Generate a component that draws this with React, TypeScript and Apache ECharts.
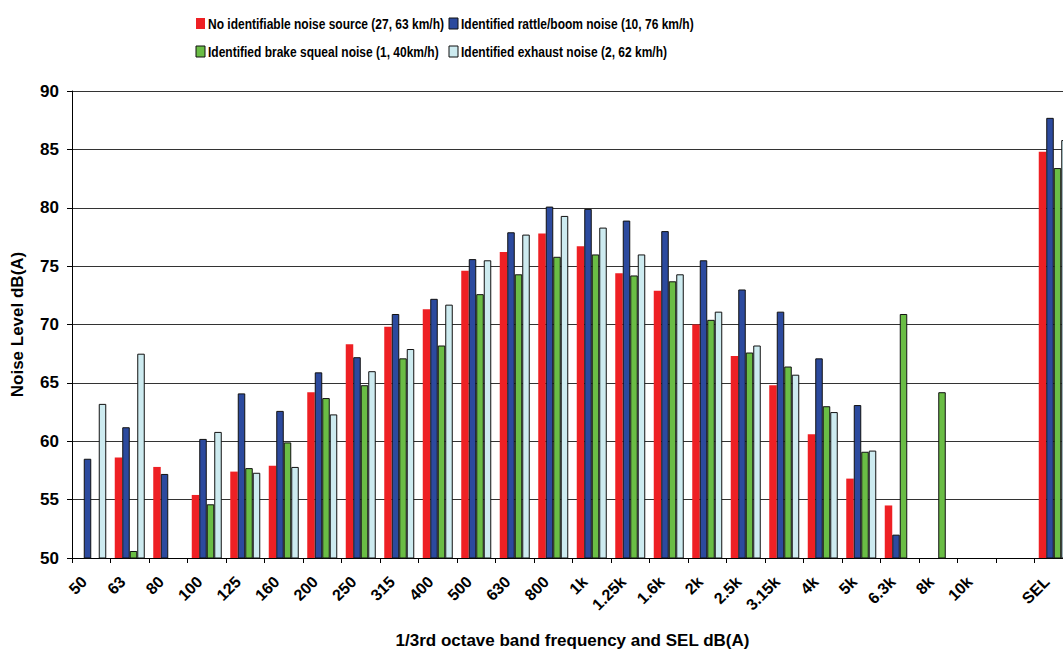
import { useEffect, useRef } from 'react';
import * as echarts from 'echarts';

// 1/3 octave bands plus SEL (blank slot before SEL)
const bands = ['50', '63', '80', '100', '125', '160', '200', '250', '315', '400', '500', '630', '800', '1k', '1.25k', '1.6k', '2k', '2.5k', '3.15k', '4k', '5k', '6.3k', '8k', '10k', '', 'SEL'];

const noSource = [null, 58.6, 57.8, 55.4, 57.4, 57.9, 64.2, 68.3, 69.8, 71.3, 74.6, 76.2, 77.8, 76.7, 74.4, 72.9, 70.0, 67.3, 64.8, 60.6, 56.8, 54.5, null, null, null, 84.8];
const rattleBoom = [58.5, 61.2, 57.2, 60.2, 64.1, 62.6, 65.9, 67.2, 70.9, 72.2, 75.6, 77.9, 80.1, 79.9, 78.9, 78.0, 75.5, 73.0, 71.1, 67.1, 63.1, 52.0, null, null, null, 87.7];
const brakeSqueal = [null, 50.6, null, 54.6, 57.7, 59.9, 63.7, 64.8, 67.1, 68.2, 72.6, 74.3, 75.8, 76.0, 74.2, 73.7, 70.4, 67.6, 66.4, 63.0, 59.1, 70.9, 64.2, null, null, 83.4];
const exhaust = [63.2, 67.5, null, 60.8, 57.3, 57.8, 62.3, 66.0, 67.9, 71.7, 75.5, 77.7, 79.3, 78.3, 76.0, 74.3, 71.1, 68.2, 65.7, 62.5, 59.2, null, null, null, null, 85.8];

const seriesNames = [
  'No identifiable noise source (27, 63 km/h)',
  'Identified rattle/boom noise (10, 76 km/h)',
  'Identified brake squeal noise (1, 40km/h)',
  'Identified exhaust noise (2, 62 km/h)',
];
const seriesColors = ['#ee2024', '#2c4a9e', '#6abd45', '#cdebf0'];

const FONT = '"Liberation Sans", Arial, sans-serif';

// legend drawn as 2x2 grid, text slightly condensed like the original
const legendItem = (i: number, x: number, y: number) => ({
  type: 'group',
  children: [
    {
      type: 'rect',
      shape: { x, y: y - 5.5, width: 9, height: 11 },
      style: {
        fill: seriesColors[i],
        stroke: i === 0 ? seriesColors[i] : '#111',
        lineWidth: i === 0 ? 0 : 1,
      },
    },
    {
      type: 'text',
      x: x + 12,
      y: y + 0.5,
      scaleX: 0.8,
      style: {
        text: seriesNames[i],
        fill: '#000',
        fontSize: 15,
        fontWeight: 700,
        fontFamily: FONT,
        align: 'left',
        verticalAlign: 'middle',
      },
    },
  ],
});

const NoiseChart = () => {
  const chartRef = useRef<HTMLDivElement>(null);

  useEffect(() => {
    if (!chartRef.current) return;
    const chart = echarts.init(chartRef.current, null, { renderer: 'svg' });

    const values = [noSource, rattleBoom, brakeSqueal, exhaust];

    const option: echarts.EChartsOption = {
      animation: false,
      textStyle: { fontFamily: FONT },
      graphic: [
        legendItem(0, 196, 23.5),
        legendItem(1, 449, 23.5),
        legendItem(2, 196, 51.5),
        legendItem(3, 449, 51.5),
      ] as any,
      grid: {
        left: 72,
        top: 91,
        bottom: 92,
        right: -10,
        outerBoundsMode: 'none',
      } as any,
      xAxis: {
        type: 'category',
        data: bands,
        name: '1/3rd octave band frequency and SEL dB(A)',
        nameLocation: 'middle',
        nameGap: 74,
        nameTextStyle: { color: '#000', fontWeight: 'bold', fontSize: 17, fontFamily: FONT },
        axisLine: { lineStyle: { color: '#000', width: 1 } },
        axisTick: { show: true, length: 5, lineStyle: { color: '#000' } },
        axisLabel: {
          interval: 0,
          rotate: 45,
          margin: 14,
          padding: [0, 10, 0, 0],
          color: '#000',
          fontWeight: 'bold',
          fontSize: 16,
          fontFamily: FONT,
        },
        splitLine: { show: false },
      },
      yAxis: {
        type: 'value',
        min: 50,
        max: 90,
        interval: 5,
        name: 'Noise Level dB(A)',
        nameLocation: 'middle',
        nameGap: 46,
        nameTextStyle: { color: '#000', fontWeight: 'bold', fontSize: 17, fontFamily: FONT },
        axisLine: { show: true, lineStyle: { color: '#000', width: 1 } },
        axisTick: { show: true, length: 5, lineStyle: { color: '#000' } },
        axisLabel: { margin: 13, color: '#000', fontWeight: 'bold', fontSize: 17, fontFamily: FONT },
        splitLine: { lineStyle: { color: '#333', width: 1 } },
      },
      series: values.map((data, i) => ({
        name: seriesNames[i],
        type: 'bar',
        data,
        barWidth: 7.5,
        barGap: '0%',
        itemStyle: {
          color: seriesColors[i],
          borderColor: i === 0 ? seriesColors[i] : '#111',
          borderWidth: i === 0 ? 0 : 1,
        },
      })),
    };

    chart.setOption(option);

    return () => {
      chart.dispose();
    };
  }, []);

  return <div ref={chartRef} style={{ position: 'fixed', left: 0, top: 0, width: 1063, height: 650, background: '#fff' }} />;
};

export default function App() {
  return <NoiseChart />;
}
